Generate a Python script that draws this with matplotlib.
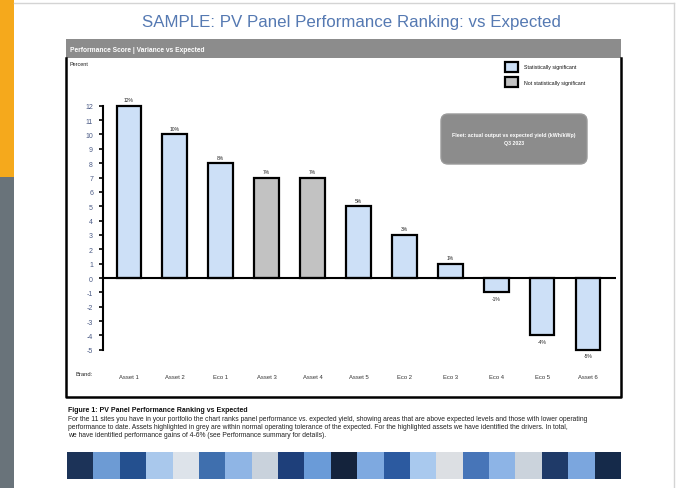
import matplotlib
matplotlib.use("Agg")
import matplotlib.pyplot as plt
from matplotlib.patches import Rectangle, FancyBboxPatch

plt.rcParams['font.family'] = ['Liberation Sans', 'DejaVu Sans']

# ---- data ----
assets = ["Asset 1", "Asset 2", "Eco 1", "Asset 3", "Asset 4", "Asset 5",
          "Eco 2", "Eco 3", "Eco 4", "Eco 5", "Asset 6"]
variance = [12, 10, 8, 7, 7, 5, 3, 1, -1, -4, -5]
significant = [True, True, True, False, False, True, True, True, True, True, True]
y_ticks = list(range(-5, 13))

title = "SAMPLE: PV Panel Performance Ranking: vs Expected"
header = "Performance Score | Variance vs Expected"
legend_labels = ["Statistically significant", "Not statistically significant"]
callout = ["Fleet: actual output vs expected yield (kWh/kWp)", "Q3 2023"]
caption_title = "Figure 1: PV Panel Performance Ranking vs Expected"
caption_lines = [
    "For the 11 sites you have in your portfolio the chart ranks panel performance vs. expected yield, showing areas that are above expected levels and those with lower operating",
    "performance to date. Assets highlighted in grey are within normal operating tolerance of the expected. For the highlighted assets we have identified the drivers. In total,",
    "we have identified performance gains of 4-6% (see Performance summary for details).",
]
strip_colors = ["#1c3358", "#6d9bd4", "#24508f", "#a9c8ec", "#dde3ea", "#3f6fae", "#8fb5e5",
                "#c9d2dc", "#1e3f7a", "#6a9bd8", "#14233c", "#7ea9e0", "#2c5aa0", "#a9c9ee",
                "#dcdfe3", "#4775b8", "#8db4e6", "#cbd3dc", "#1f3a68", "#7ba6de", "#152a4a"]

BLUE = "#cde0f7"
GREY = "#c2c2c2"

W, H = 678, 489
fig = plt.figure(figsize=(W / 100, H / 100), dpi=100)

# background canvas in pixel coordinates
bg = fig.add_axes([0, 0, 1, 1])
bg.set_xlim(0, W)
bg.set_ylim(H, 0)
bg.axis("off")

# side accent strip
bg.add_patch(Rectangle((0, 0), 14, 178, color="#f5a91c", lw=0))
bg.add_patch(Rectangle((0, 178), 14, H - 178, color="#69737a", lw=0))
bg.plot([14, 674], [4, 4], color="#d4d4d4", lw=1)
bg.plot([674, 674], [4, H], color="#d4d4d4", lw=1)

bg.text(351, 22, title, ha="center", va="center", fontsize=12.2, color="#5579b2")

# chart panel: header bar and frame
bg.add_patch(Rectangle((66, 40), 555, 19, color="#8c8c8c", lw=0))
bg.text(70, 50, header, ha="left", va="center", fontsize=4.8, color="white", fontweight="bold")
bg.plot([66, 66, 621, 621], [59, 398, 398, 59], color="black", lw=1.8)
bg.text(70, 65, "Percent", ha="left", va="center", fontsize=4, color="#222222")

# legend
for i, (lab, col) in enumerate(zip(legend_labels, [BLUE, GREY])):
    y = 68 + i * 15
    bg.add_patch(Rectangle((505, y - 5), 13, 10, facecolor=col, edgecolor="black", lw=1.6))
    bg.text(524, y, lab, ha="left", va="center", fontsize=3.8, color="#111111")

# callout box
bg.add_patch(FancyBboxPatch((441, 115), 146, 50, boxstyle="round,pad=0,rounding_size=7",
                            facecolor="#8c8c8c", edgecolor="#9a9a9a", lw=1))
bg.text(514, 136, callout[0], ha="center", va="center", fontsize=3.8, color="white", fontweight="bold")
bg.text(514, 143, callout[1], ha="center", va="center", fontsize=3.8, color="white", fontweight="bold")

bg.text(75, 375, "Brand:", ha="left", va="center", fontsize=4.2, color="#222222")

# caption
bg.text(68, 411, caption_title, ha="left", va="center", fontsize=5, color="#111111", fontweight="bold")
for i, line in enumerate(caption_lines):
    bg.text(68, 419.5 + i * 8, line, ha="left", va="center", fontsize=4.9, color="#222222")

# colour strip
x0, x1 = 67, 621
bw = (x1 - x0) / len(strip_colors)
for i, c in enumerate(strip_colors):
    bg.add_patch(Rectangle((x0 + i * bw, 453), bw + 0.3, 27, color=c, lw=0))

# ---- bar chart ----
left_px, right_px, top_px, bot_px = 102.8, 615.5, 98.1, 355.1
ax = fig.add_axes([left_px / W, 1 - bot_px / H, (right_px - left_px) / W, (bot_px - top_px) / H])
ax.patch.set_alpha(0)

pos = list(range(len(assets)))
colors = [BLUE if s else GREY for s in significant]
ax.bar(pos, variance, width=0.54, color=colors, edgecolor="black", linewidth=1.6, zorder=2)
for p, v in zip(pos, variance):
    off = 0.25 if v >= 0 else -0.25
    ax.text(p, v + off, f"{v}%", ha="center", va="bottom" if v >= 0 else "top",
            fontsize=3.6, color="#222222")

ax.set_xlim(-0.57, 10.6)
ax.set_ylim(-5.3, 12.6)
ax.axhline(0, color="black", lw=1.5, zorder=3)

for s in ["top", "right", "bottom"]:
    ax.spines[s].set_visible(False)
ax.spines["left"].set_linewidth(1.5)
ax.spines["left"].set_bounds(-5, 12)

ax.set_yticks(y_ticks)
ax.set_yticklabels([str(t) for t in y_ticks], fontsize=5, color="#4a5a85")
ax.tick_params(axis="y", length=3, width=1.2, pad=4)

ax.set_xticks(pos)
ax.set_xticklabels(assets, fontsize=4.2, color="#333333")
ax.tick_params(axis="x", length=0, pad=14)

fig.savefig("out.png", dpi=100)
